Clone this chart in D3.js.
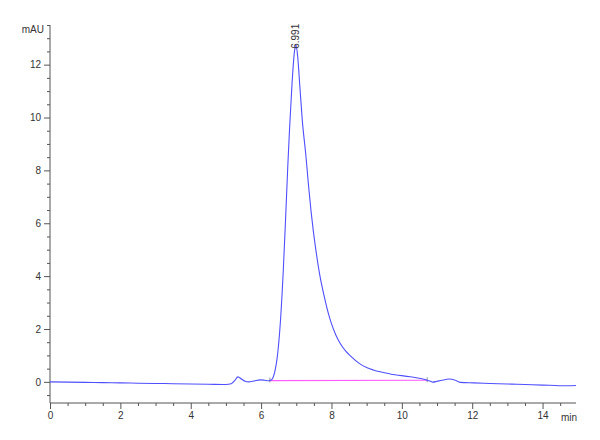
<!DOCTYPE html>
<html>
<head>
<meta charset="utf-8">
<script src="https://cdn.jsdelivr.net/npm/d3@7"></script>
<style>
  body { margin: 0; background: #fff; }
  text { font-family: "Liberation Sans", Arial, sans-serif; }
</style>
</head>
<body>
<div id="chart"></div>
<script>
// chromatogram trace
var times = [0, 0.5, 1, 1.5, 2, 2.5, 3, 3.5, 4, 4.5, 5, 5.15, 5.25, 5.34, 5.45, 5.55, 5.64, 5.8, 5.97, 6.1, 6.21, 6.3,
  6.4, 6.45, 6.55, 6.63, 6.7, 6.76, 6.81, 6.88, 6.94, 6.99, 7.04, 7.1, 7.17, 7.27, 7.35, 7.42, 7.48, 7.55, 7.68, 7.8, 7.9,
  8.0, 8.12, 8.25, 8.4, 8.53, 8.81, 9.0, 9.19, 9.67, 10.24, 10.66, 10.72, 10.8, 10.88, 11.0, 11.1, 11.25, 11.35, 11.5,
  11.66, 12.04, 12.5, 13.0, 13.27, 13.7, 14.2, 14.69, 14.95];
var signal = [0, -0.01, -0.02, -0.03, -0.04, -0.05, -0.06, -0.07, -0.08, -0.09, -0.1, -0.07, 0.05, 0.19, 0.1, 0.02, 0.0, 0.03, 0.075, 0.06, 0.04, 0.08,
  0.45, 0.84, 2.3, 4.2, 6.3, 8.2, 9.6, 11.3, 12.4, 12.75, 12.3, 11.2, 9.9, 8.6, 7.4, 6.45, 5.75, 5.05, 3.95, 3.2, 2.65,
  2.2, 1.78, 1.45, 1.17, 0.99, 0.68, 0.54, 0.45, 0.3, 0.19, 0.09, 0.06, 0.03, -0.01, 0.02, 0.05, 0.09, 0.11, 0.07,
  -0.02, -0.04, -0.06, -0.08, -0.09, -0.11, -0.13, -0.15, -0.14];

// integration baseline
var baseTimes = [6.25, 10.72];
var baseValues = [0.05, 0.06];

var peakTime = 6.991;
var peakHeight = 12.75;
var peakLabel = "6.991";

var xMajor = [0, 2, 4, 6, 8, 10, 12, 14];
var yMajor = [0, 2, 4, 6, 8, 10, 12];

var svgWidth = 600;
var svgHeight = 440;

var svg = d3.select("#chart")
  .append("svg")
  .attr("width", svgWidth)
  .attr("height", svgHeight);

var xScale = d3.scaleLinear().domain([0, 14.95]).range([50, 576]);
var yScale = d3.scaleLinear().domain([-0.8, 13.5]).range([403, 25]);

var axisColor = "#555";
var textColor = "#333";

// x axis, major and minor ticks
var bottomAxis = d3.axisBottom(xScale)
  .tickValues(xMajor)
  .tickSize(6)
  .tickFormat(d3.format("d"));
var xMinor = d3.axisBottom(xScale)
  .tickValues(d3.range(0.5, 15, 0.5).filter(d => d % 2 !== 0))
  .tickSize(3)
  .tickFormat("");

svg.append("g").attr("transform", "translate(0,403)").call(bottomAxis);
svg.append("g").attr("transform", "translate(0,403)").call(xMinor);

// y axis
var leftAxis = d3.axisLeft(yScale)
  .tickValues(yMajor)
  .tickSize(6)
  .tickFormat(d3.format("d"));
var yMinor = d3.axisLeft(yScale)
  .tickValues(d3.range(-0.5, 13.6, 0.5).filter(d => d % 2 !== 0))
  .tickSize(3)
  .tickFormat("");

svg.append("g").attr("transform", "translate(50,0)").call(leftAxis);
svg.append("g").attr("transform", "translate(50,0)").call(yMinor);

svg.selectAll(".tick line").attr("stroke", axisColor);
svg.selectAll(".tick text")
  .attr("fill", textColor)
  .style("font-size", "10px");

// plain axis lines without end caps
svg.selectAll(".domain").remove();
svg.append("line").attr("x1", 50).attr("x2", 576).attr("y1", 403).attr("y2", 403).attr("stroke", axisColor);
svg.append("line").attr("x1", 50).attr("x2", 50).attr("y1", 25).attr("y2", 403).attr("stroke", axisColor);

// unit labels
svg.append("text")
  .attr("x", 44).attr("y", 33)
  .attr("text-anchor", "end")
  .attr("fill", textColor)
  .style("font-size", "10px")
  .text("mAU");

svg.append("text")
  .attr("x", 577).attr("y", 421)
  .attr("text-anchor", "end")
  .attr("fill", textColor)
  .style("font-size", "10px")
  .text("min");

// baseline
var basePts = baseTimes.map((t, i) => [t, baseValues[i]]);
svg.append("path")
  .datum(basePts)
  .attr("fill", "none")
  .attr("stroke", "#ff5cff")
  .attr("stroke-width", 1.2)
  .attr("d", d3.line().x(d => xScale(d[0])).y(d => yScale(d[1])));

svg.selectAll(".basemark")
  .data(basePts)
  .enter()
  .append("line")
  .attr("x1", d => xScale(d[0]))
  .attr("x2", d => xScale(d[0]))
  .attr("y1", d => yScale(d[1]) - 3)
  .attr("y2", d => yScale(d[1]) + 2)
  .attr("stroke", "#777")
  .attr("stroke-width", 0.8);

// trace
var pts = times.map((t, i) => [t, signal[i]]);
svg.append("path")
  .datum(pts)
  .attr("fill", "none")
  .attr("stroke", "#4f4fff")
  .attr("stroke-width", 1.1)
  .attr("d", d3.line()
    .x(d => xScale(d[0]))
    .y(d => yScale(d[1]))
    .curve(d3.curveMonotoneX));

// retention time label
var lx = xScale(peakTime) + 3.5;
var ly = yScale(peakHeight) + 4;
svg.append("text")
  .attr("transform", `translate(${lx},${ly}) rotate(-90)`)
  .attr("fill", textColor)
  .style("font-size", "10px")
  .text(peakLabel);
</script>
</body>
</html>
